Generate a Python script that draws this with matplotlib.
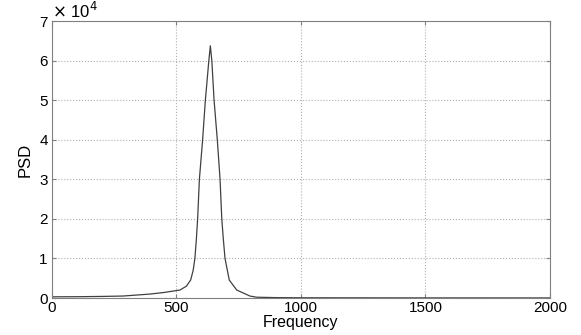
import matplotlib
matplotlib.use("Agg")
import matplotlib.pyplot as plt

# values
freq = [0, 100, 200, 285, 394, 450, 514, 540, 557, 567, 574, 580, 585, 592, 605,
        616, 630, 636, 642, 651, 664, 675, 682, 688, 695, 712, 742, 795, 822,
        900, 1000, 1500, 2000]
psd = [300, 330, 400, 500, 1000, 1400, 2020, 3000, 4550, 7000, 10000, 15000,
       20000, 30000, 40000, 50000, 60000, 63760, 60000, 50000, 40000, 30000,
       20000, 15000, 10000, 4550, 2020, 500, 200, 100, 60, 30, 20]

xticks = [0, 500, 1000, 1500, 2000]
yticks = [0, 1e4, 2e4, 3e4, 4e4, 5e4, 6e4, 7e4]
ytick_labels = ["0", "1", "2", "3", "4", "5", "6", "7"]

plt.rcParams["font.family"] = ["Liberation Sans", "DejaVu Sans"]

fig = plt.figure(figsize=(5.81, 3.35), dpi=100)
ax = fig.add_axes([0.0895, 0.1104, 0.857, 0.8266])

ax.plot(freq, psd, color="#404040", linewidth=0.9)

ax.set_xlim(0, 2000)
ax.set_ylim(0, 7e4)
ax.set_xticks(xticks)
ax.set_xticklabels([str(t) for t in xticks])
ax.set_yticks(yticks)
ax.set_yticklabels(ytick_labels)
ax.grid(True, linestyle=":", color="#b0b0b0", linewidth=0.8)

ax.tick_params(direction="in", length=3, colors="#808080", labelcolor="black",
               labelsize=11, top=True, right=True)
ax.tick_params(axis="x", pad=2)
ax.tick_params(axis="y", pad=3)
for s in ax.spines.values():
    s.set_color("#808080")

ax.text(0.0, 1.0, r"$\times$ 10$^4$", transform=ax.transAxes, fontsize=12,
        ha="left", va="bottom")

ax.set_xlabel("Frequency", fontsize=11.5, labelpad=0)
ax.set_ylabel("PSD", fontsize=12, labelpad=5)

fig.savefig("out.png")
